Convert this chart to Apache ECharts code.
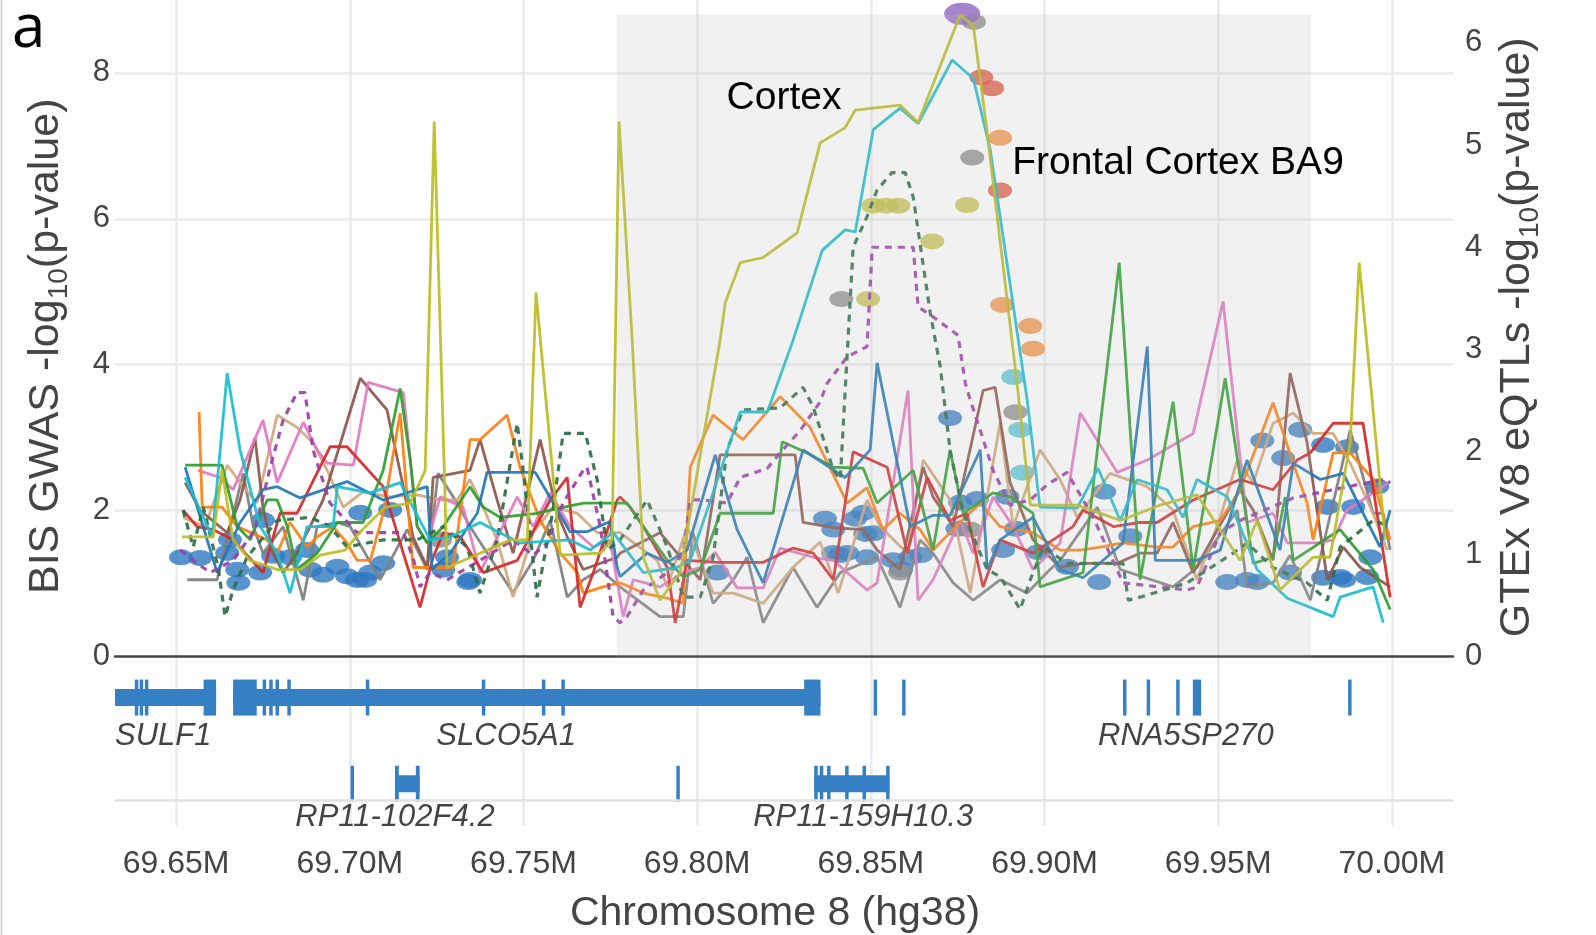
<!DOCTYPE html>
<html>
<head>
<meta charset="utf-8">
<script src="https://cdn.jsdelivr.net/npm/echarts@6/dist/echarts.min.js"></script>
<style>
  html, body { margin: 0; padding: 0; background: #fff; }
  #chart { width: 1596px; height: 935px; }
</style>
</head>
<body>
<div id="chart"></div>
<script>
// x range of the locus (Mb) and the highlighted window
var xRange = [69.6324, 70.0176];
var shadeRange = [69.7769, 69.9767];
var shadeTop = 8.80;

// GWAS points (left axis), grouped by colour
var gwasBlue = [[69.6514,1.36],[69.6569,1.35],[69.6647,1.42],[69.6655,1.60],[69.6676,1.19],[69.6679,1.01],[69.6750,1.87],[69.6742,1.15],[69.6779,1.38],[69.6828,1.36],[69.6877,1.46],[69.6886,1.19],[69.6923,1.12],[69.6964,1.23],[69.6992,1.10],[69.7021,1.05],[69.7044,1.05],[69.7059,1.15],[69.7096,1.28],[69.7030,1.97],[69.7116,2.01],[69.7269,1.19],[69.7280,1.36],[69.7341,1.02],[69.7346,1.05],
  [69.8058,1.15],[69.8368,1.89],[69.8392,1.74],[69.8412,1.39],[69.8455,1.89],[69.8478,1.97],[69.8484,1.68],[69.8507,1.69],[69.8432,1.42],[69.8392,1.42],[69.8489,1.36],[69.8564,1.32],[69.8587,1.19],[69.8613,1.36],[69.8645,1.39],[69.8749,1.75],[69.8757,2.11],[69.8806,2.16],[69.8893,2.19],[69.8881,1.46],[69.8918,1.75],[69.8982,1.43],[69.9065,1.23],[69.9157,1.02],[69.9172,2.26],[69.9247,1.65],[69.8728,3.27],
  [69.9526,1.02],[69.9583,1.05],[69.9612,1.02],[69.9627,2.96],[69.9687,2.72],[69.9736,3.11],[69.9802,2.90],[69.9871,2.87],[69.9814,2.05],[69.9889,2.05],[69.9958,2.33],[69.9938,1.36],[69.9851,1.09],[69.9929,1.09],[69.9707,1.15],[69.9802,1.08],[69.9863,1.05]];
var gwasGray = [[69.8797,8.70],[69.8792,6.84],[69.8415,4.90],[69.8916,3.35],[69.7260,1.60],[69.8786,1.74],[69.8584,1.15]];
var gwasRed = [[69.8818,7.94],[69.8849,7.79],[69.8872,6.39]];
var gwasOrange = [[69.8872,7.11],[69.8878,4.82],[69.8959,4.53],[69.8967,4.22]];
var gwasOlive = [[69.8777,6.19],[69.8507,6.18],[69.8544,6.18],[69.8579,6.18],[69.8677,5.69],[69.8492,4.90]];
var gwasCyan = [[69.8910,3.83],[69.8930,3.11],[69.8936,2.52]];
var gwasPurple = [[69.8763,8.81]];

// GTEx eQTL tracks (right axis), one per tissue colour
var eqtlBlue = [[69.6526,1.85],[69.6618,0.82],[69.6684,1.31],[69.6750,1.63],[69.6791,1.66],[69.6857,1.55],[69.6992,1.71],[69.7096,1.53],[69.7223,1.66],[69.7237,0.85],[69.7289,1.01],[69.7367,1.40],[69.7395,1.80],[69.7534,1.80],[69.7634,1.22],[69.7683,1.22],[69.7749,1.32],[69.7770,0.87],[69.7778,0.78],[69.7856,1.01],[69.7914,0.92],[69.7971,1.04],[69.8052,1.97],[69.8115,1.24],[69.8190,0.72],[69.8305,2.02],[69.8426,1.75],[69.8498,2.02],[69.8518,2.87],[69.8613,1.27],[69.8679,1.38],[69.8728,1.38],[69.8815,2.02],[69.8835,0.85],[69.8872,1.14],[69.8967,1.36],[69.9045,0.85],[69.9111,0.77],[69.9226,1.11],[69.9296,3.03],[69.9319,0.94],[69.9439,0.94],[69.9506,1.04],[69.9583,1.92],[69.9678,1.04],[69.9716,1.89],[69.9794,1.73],[69.9860,1.79],[69.9966,1.07],[69.9995,1.43]];
var eqtlCyan = [[69.6526,1.75],[69.6604,1.17],[69.6647,2.77],[69.6684,2.02],[69.6742,1.27],[69.6791,1.01],[69.6828,0.62],[69.6877,1.27],[69.6952,1.27],[69.6964,1.66],[69.7059,1.60],[69.7145,1.70],[69.7231,1.14],[69.7289,1.17],[69.7375,1.31],[69.7490,1.11],[69.7634,1.14],[69.7692,1.04],[69.7758,1.21],[69.7845,0.82],[69.7942,0.87],[69.7980,0.94],[69.8124,2.39],[69.8202,2.39],[69.8276,3.09],[69.8360,3.97],[69.8426,4.17],[69.8455,4.15],[69.8507,5.15],[69.8584,5.36],[69.8636,5.21],[69.8734,5.83],[69.8795,5.65],[69.8844,4.95],[69.8950,2.51],[69.8987,1.46],[69.9094,1.45],[69.9154,1.84],[69.9218,1.33],[69.9267,1.73],[69.9353,1.63],[69.9399,1.36],[69.9439,1.73],[69.9526,1.56],[69.9563,1.27],[69.9612,0.85],[69.9699,0.57],[69.9831,0.39],[69.9851,0.58],[69.9946,0.68],[69.9975,0.33]];
var eqtlOlive = [[69.6517,1.17],[69.6607,1.17],[69.6632,1.82],[69.6664,1.14],[69.6713,0.94],[69.6791,0.85],[69.6857,0.85],[69.6915,0.99],[69.6987,1.04],[69.7036,1.24],[69.7102,1.46],[69.7174,1.50],[69.7217,1.82],[69.7243,5.23],[69.7280,0.87],[69.7375,1.01],[69.7462,1.14],[69.7511,1.14],[69.7536,3.56],[69.7606,0.99],[69.7721,1.01],[69.7755,1.14],[69.7775,5.23],[69.7813,3.09],[69.7845,0.97],[69.7893,0.55],[69.7951,0.82],[69.8009,1.97],[69.8066,3.09],[69.8081,3.46],[69.8124,3.85],[69.8190,3.90],[69.8288,4.14],[69.8354,5.02],[69.8426,5.17],[69.8455,5.34],[69.8507,5.36],[69.8584,5.39],[69.8636,5.22],[69.8757,6.27],[69.8795,6.17],[69.8835,5.12],[69.8921,2.67],[69.8959,1.48],[69.9094,1.48],[69.9218,1.33],[69.9333,1.48],[69.9439,1.58],[69.9506,1.24],[69.9563,0.94],[69.9612,1.33],[69.9678,0.65],[69.9773,0.97],[69.9822,0.97],[69.9880,2.09],[69.9906,3.85],[69.9981,1.14]];
var eqtlDarkGreen = [[69.6520,1.43],[69.6549,1.07],[69.6578,1.46],[69.6621,0.87],[69.6641,0.39],[69.6664,0.65],[69.6704,0.97],[69.6791,1.33],[69.6886,1.36],[69.6943,1.27],[69.6992,1.07],[69.7096,1.14],[69.7194,1.14],[69.7269,1.27],[69.7338,1.07],[69.7375,0.62],[69.7424,1.14],[69.7482,2.28],[69.7499,1.82],[69.7539,0.58],[69.7585,1.43],[69.7614,2.18],[69.7678,2.18],[69.7712,1.73],[69.7741,1.04],[69.7778,1.14],[69.7856,1.53],[69.7914,1.07],[69.7960,0.58],[69.8009,0.58],[69.8046,0.97],[69.8086,2.02],[69.8132,2.41],[69.8239,2.43],[69.8305,2.63],[69.8334,2.44],[69.8392,1.82],[69.8412,1.73],[69.8449,4.00],[69.8489,4.30],[69.8518,4.56],[69.8561,4.73],[69.8599,4.73],[69.8622,4.49],[69.8671,3.36],[69.8700,2.83],[69.8728,2.02],[69.8766,1.40],[69.8835,0.85],[69.8872,0.78],[69.8930,0.46],[69.8959,0.75],[69.8996,1.07],[69.9065,0.91],[69.9226,0.91],[69.9241,0.55],[69.9275,0.58],[69.9411,0.72],[69.9543,1.01],[69.9583,1.11],[69.9658,0.87],[69.9756,0.72],[69.9814,0.55],[69.9851,1.07],[69.9946,1.33],[69.9995,1.27]];
var eqtlPurple = [[69.6512,1.04],[69.6549,0.94],[69.6598,0.82],[69.6664,0.94],[69.6727,1.24],[69.6771,1.85],[69.6808,2.31],[69.6848,2.58],[69.6871,2.58],[69.6894,2.02],[69.6943,1.50],[69.7021,1.21],[69.7096,1.21],[69.7154,1.21],[69.7182,0.97],[69.7202,0.68],[69.7231,0.82],[69.7280,0.75],[69.7375,0.94],[69.7470,1.14],[69.7528,0.99],[69.7568,1.11],[69.7614,1.50],[69.7672,1.82],[69.7683,1.85],[69.7721,1.27],[69.7758,0.39],[69.7778,0.33],[69.7798,0.39],[69.7845,0.65],[69.7914,0.82],[69.7960,1.01],[69.7980,1.53],[69.8017,1.53],[69.8086,1.50],[69.8124,1.75],[69.8202,1.84],[69.8239,1.99],[69.8297,2.21],[69.8354,2.49],[69.8374,2.67],[69.8432,2.93],[69.8489,3.03],[69.8504,4.00],[69.8622,4.00],[69.8636,3.42],[69.8679,3.32],[69.8751,3.14],[69.8772,2.67],[69.8786,2.51],[69.8815,2.21],[69.8852,1.82],[69.8901,1.48],[69.8959,1.53],[69.9008,1.68],[69.9065,1.80],[69.9082,1.70],[69.9140,1.36],[69.9226,0.72],[69.9411,0.65],[69.9439,0.68],[69.9506,1.21],[69.9563,1.33],[69.9716,1.55],[69.9975,1.73],[69.9995,1.70]];
var eqtlGreen = [[69.6526,1.87],[69.6632,1.87],[69.6676,1.27],[69.6713,1.14],[69.6762,1.53],[69.6791,1.53],[69.6820,1.27],[69.6848,0.85],[69.6906,1.01],[69.6964,1.31],[69.7038,1.31],[69.7096,1.82],[69.7145,2.62],[69.7174,1.92],[69.7194,1.27],[69.7223,1.11],[69.7269,1.27],[69.7346,1.66],[69.7384,1.46],[69.7433,1.36],[69.7539,1.40],[69.7577,1.43],[69.7672,1.50],[69.7770,1.50],[69.7798,1.50],[69.7845,1.27],[69.7914,0.94],[69.7960,0.78],[69.8009,0.85],[69.8066,1.40],[69.8219,1.40],[69.8245,2.10],[69.8317,1.99],[69.8392,1.85],[69.8478,1.84],[69.8518,1.50],[69.8622,1.82],[69.8679,1.04],[69.8728,2.02],[69.8766,1.40],[69.8852,1.60],[69.8901,1.56],[69.8967,1.40],[69.8987,0.68],[69.9111,0.82],[69.9215,3.85],[69.9275,0.75],[69.9370,2.49],[69.9428,0.85],[69.9520,2.72],[69.9601,0.91],[69.9658,0.97],[69.9693,1.56],[69.9716,0.94],[69.9851,1.24],[69.9946,0.85],[69.9995,0.46]];
var eqtlRed = [[69.6520,1.43],[69.6560,1.27],[69.6607,1.24],[69.6664,1.14],[69.6750,0.82],[69.6799,1.40],[69.6848,1.40],[69.6943,2.05],[69.6992,2.05],[69.7096,1.66],[69.7154,1.01],[69.7202,0.48],[69.7240,0.97],[69.7269,1.21],[69.7318,1.17],[69.7384,0.82],[69.7482,0.94],[69.7577,1.53],[69.7626,1.75],[69.7663,0.48],[69.7701,0.82],[69.7770,1.53],[69.7778,1.56],[69.7807,1.46],[69.7845,1.27],[69.7914,0.87],[69.7937,0.33],[69.7971,0.94],[69.8058,0.92],[69.8190,0.92],[69.8276,1.06],[69.8334,1.01],[69.8392,0.75],[69.8449,2.00],[69.8547,1.85],[69.8605,1.01],[69.8662,1.75],[69.8728,1.33],[69.8777,1.40],[69.8823,0.68],[69.8872,1.14],[69.8967,1.01],[69.9082,1.27],[69.9111,1.43],[69.9198,1.27],[69.9275,1.31],[69.9324,1.31],[69.9428,1.53],[69.9563,1.73],[69.9658,1.63],[69.9727,1.92],[69.9765,1.99],[69.9831,2.28],[69.9917,2.28],[69.9995,0.58]];
var eqtlBrown = [[69.6526,1.70],[69.6569,1.43],[69.6647,1.21],[69.6684,1.53],[69.6727,2.14],[69.6750,1.46],[69.6779,1.01],[69.6808,0.82],[69.6848,1.01],[69.6923,1.53],[69.7030,2.72],[69.7107,2.41],[69.7154,1.66],[69.7182,1.17],[69.7223,0.87],[69.7240,1.75],[69.7346,1.82],[69.7375,2.12],[69.7424,1.53],[69.7470,1.01],[69.7548,2.12],[69.7597,1.40],[69.7626,1.17],[69.7672,0.85],[69.7770,0.97],[69.7778,1.01],[69.7893,1.21],[69.7960,0.94],[69.8009,0.75],[69.8066,1.97],[69.8282,1.97],[69.8305,1.31],[69.8392,1.26],[69.8478,1.24],[69.8518,1.04],[69.8584,0.85],[69.8651,1.85],[69.8679,1.56],[69.8737,1.27],[69.8823,2.60],[69.8858,2.63],[69.8901,1.70],[69.8967,1.14],[69.9045,0.87],[69.9111,0.91],[69.9209,0.91],[69.9275,1.01],[69.9324,1.01],[69.9370,1.31],[69.9428,0.82],[69.9563,1.63],[69.9601,1.43],[69.9658,0.94],[69.9707,2.77],[69.9756,2.09],[69.9814,0.75],[69.9860,1.07],[69.9909,0.87],[69.9995,0.68]];
var eqtlPink = [[69.6563,1.82],[69.6627,1.75],[69.6664,1.63],[69.6750,2.31],[69.6791,1.70],[69.6866,2.29],[69.6906,2.02],[69.6935,1.89],[69.7010,1.87],[69.7053,2.68],[69.7154,2.58],[69.7194,1.27],[69.7223,1.11],[69.7260,1.56],[69.7326,1.46],[69.7375,0.82],[69.7482,1.56],[69.7528,1.27],[69.7577,1.60],[69.7634,1.27],[69.7701,1.07],[69.7749,1.14],[69.7787,0.39],[69.7816,0.75],[69.7893,0.68],[69.7960,0.82],[69.8009,0.87],[69.8052,1.02],[69.8115,0.67],[69.8190,0.67],[69.8239,1.06],[69.8334,0.97],[69.8392,0.94],[69.8489,0.65],[69.8518,0.72],[69.8607,2.60],[69.8636,0.55],[69.8679,0.75],[69.8757,1.33],[69.8795,1.01],[69.8852,1.56],[69.8910,1.27],[69.8967,0.85],[69.9045,1.11],[69.9103,2.38],[69.9209,1.80],[69.9296,1.92],[69.9428,2.18],[69.9514,3.47],[69.9583,1.31],[69.9658,1.40],[69.9699,1.11],[69.9785,1.11],[69.9831,1.14],[69.9871,1.43],[69.9995,1.71]];
var eqtlOrange = [[69.6566,2.39],[69.6575,1.46],[69.6632,1.46],[69.6676,1.27],[69.6762,1.14],[69.6791,1.01],[69.6828,1.31],[69.6877,1.07],[69.6906,1.17],[69.6952,1.27],[69.6992,1.11],[69.7021,0.94],[69.7059,0.94],[69.7096,1.40],[69.7145,2.38],[69.7182,0.87],[69.7231,0.87],[69.7297,0.87],[69.7346,2.12],[69.7375,2.12],[69.7453,2.36],[69.7490,1.85],[69.7548,1.33],[69.7606,1.01],[69.7655,0.82],[69.7672,0.62],[69.7729,0.68],[69.7778,0.72],[69.7845,0.62],[69.7914,0.57],[69.7960,0.52],[69.7980,1.85],[69.8046,2.36],[69.8132,2.12],[69.8239,2.54],[69.8325,2.24],[69.8432,1.50],[69.8489,1.65],[69.8535,1.24],[69.8584,1.40],[69.8642,1.24],[69.8679,1.04],[69.8757,1.31],[69.8815,1.50],[69.8872,1.27],[69.8967,1.21],[69.9045,1.04],[69.9103,1.04],[69.9160,1.07],[69.9226,1.11],[69.9324,1.07],[69.9370,1.07],[69.9428,1.27],[69.9506,1.33],[69.9563,1.63],[69.9658,2.48],[69.9716,1.89],[69.9756,1.50],[69.9773,1.14],[69.9831,1.99],[69.9880,1.99],[69.9946,1.73],[69.9995,1.14]];
var eqtlGray = [[69.6532,0.75],[69.6618,0.75],[69.6693,1.79],[69.6722,1.27],[69.6750,1.01],[69.6808,1.27],[69.6866,0.55],[69.6906,1.27],[69.6964,1.31],[69.7001,1.27],[69.7087,0.75],[69.7165,1.24],[69.7223,0.85],[69.7254,1.79],[69.7309,1.50],[69.7346,1.27],[69.7470,0.62],[69.7528,0.94],[69.7577,1.33],[69.7626,0.58],[69.7672,0.75],[69.7721,0.85],[69.7778,0.68],[69.7893,0.39],[69.7960,0.39],[69.7988,1.21],[69.8046,0.52],[69.8104,0.75],[69.8144,0.97],[69.8190,0.33],[69.8276,0.87],[69.8345,0.48],[69.8412,0.82],[69.8518,0.97],[69.8584,0.48],[69.8642,1.14],[69.8679,1.01],[69.8737,0.72],[69.8795,0.55],[69.8872,0.75],[69.8950,0.62],[69.9016,0.85],[69.9045,0.94],[69.9152,1.46],[69.9218,0.85],[69.9370,0.68],[69.9439,0.87],[69.9555,1.43],[69.9583,0.68],[69.9658,0.72],[69.9707,0.99],[69.9765,0.55],[69.9880,2.21],[69.9946,1.40],[69.9975,1.40],[69.9995,1.04]];
var eqtlTan = [[69.6520,1.36],[69.6583,1.27],[69.6647,1.87],[69.6693,1.66],[69.6733,1.50],[69.6791,2.36],[69.6848,2.24],[69.6894,2.09],[69.6935,1.82],[69.6981,1.46],[69.7038,1.61],[69.7116,1.56],[69.7194,1.58],[69.7260,1.53],[69.7309,1.53],[69.7346,1.73],[69.7384,1.46],[69.7424,1.14],[69.7470,0.58],[69.7528,1.21],[69.7585,1.46],[69.7655,1.40],[69.7712,1.21],[69.7778,1.21],[69.7885,0.94],[69.7914,0.68],[69.7971,1.27],[69.8046,0.62],[69.8104,0.62],[69.8190,0.52],[69.8276,0.87],[69.8354,1.12],[69.8406,0.62],[69.8489,1.53],[69.8527,1.27],[69.8605,1.01],[69.8651,1.92],[69.8728,1.53],[69.8786,0.62],[69.8872,2.28],[69.8910,1.27],[69.8987,2.02],[69.9045,1.73],[69.9094,1.36],[69.9189,1.79],[69.9296,1.66],[69.9370,1.43],[69.9439,0.75],[69.9506,1.36],[69.9555,1.92],[69.9601,1.70],[69.9658,2.28],[69.9716,2.38],[69.9773,2.18],[69.9831,2.18],[69.9880,1.89],[69.9946,1.40],[69.9986,1.04]];

// gene models: [start, end, track row, kind] kind 1 = exon, 0 = intron
var geneParts = [
  [69.6324,69.6615,1,0],[69.6381,69.6390,1,1],[69.6395,69.6404,1,1],[69.6410,69.6419,1,1],[69.6579,69.6615,1,1],
  [69.6664,69.8355,1,0],[69.6664,69.6732,1,1],[69.6749,69.6758,1,1],[69.6768,69.6777,1,1],[69.6786,69.6795,1,1],[69.6820,69.6829,1,1],
  [69.7046,69.7055,1,1],[69.7380,69.7389,1,1],[69.7553,69.7562,1,1],[69.7609,69.7618,1,1],[69.8308,69.8355,1,1],
  [69.8508,69.8518,1,1],[69.8590,69.8600,1,1],[69.9226,69.9235,1,1],[69.9294,69.9303,1,1],[69.9379,69.9388,1,1],[69.9427,69.9451,1,1],[69.9874,69.9883,1,1],
  [69.7002,69.7011,2,1],[69.7130,69.7201,2,0],[69.7130,69.7141,2,1],[69.7190,69.7201,2,1],[69.7940,69.7949,2,1],
  [69.8337,69.8553,2,0],[69.8337,69.8346,2,1],[69.8353,69.8362,2,1],[69.8374,69.8383,2,1],[69.8426,69.8435,2,1],[69.8476,69.8485,2,1],[69.8544,69.8553,2,1]
];
var geneLabels = [['SULF1',69.6463,1],['SLCO5A1',69.7450,1],['RNA5SP270',69.9407,1],['RP11-102F4.2',69.7130,2],['RP11-159H10.3',69.8478,2]];

// layout constants for the gene panel (y levels in panel units)
var geneRowY = {1: 0.61, 2: 0.10};
var geneLabelY = {1: 0.38, 2: -0.10};
var FONT = '"Liberation Sans", Arial, Helvetica, sans-serif';
var TXT = '#444444';
var GRIDC = '#ebebeb';

var chart = echarts.init(document.getElementById('chart'));

function eqtl(data, color, dashed) {
  return {
    type: 'line', xAxisIndex: 0, yAxisIndex: 1, data: data, symbol: 'none',
    z: 3, silent: true,
    lineStyle: { color: color, width: dashed ? 3.2 : 2.8, type: dashed ? [7, 6] : 'solid', opacity: 0.92 }
  };
}
function gwas(data, color, size) {
  return {
    type: 'scatter', xAxisIndex: 0, yAxisIndex: 0, data: data, symbol: 'circle',
    symbolSize: size || [24, 16], z: 2, silent: true, itemStyle: { color: color }
  };
}

var xAxisBase = {
  type: 'value', min: xRange[0], max: xRange[1], splitNumber: 8, minInterval: 0.05, maxInterval: 0.05,
  splitLine: { show: true, showMinLine: false, showMaxLine: false, lineStyle: { color: GRIDC, width: 2.5 } },
  axisTick: { show: false }
};
var titleRich = {
  t: { fontSize: 43, color: TXT, fontFamily: FONT, lineHeight: 54, verticalAlign: 'middle' },
  s: { fontSize: 28, color: TXT, fontFamily: FONT, lineHeight: 28, verticalAlign: 'bottom' }
};

option = {
  animation: false,
  backgroundColor: '#ffffff',
  grid: [
    { left: 115, right: 143, top: 0, height: 656.5 },
    { left: 115, right: 143, top: 657, height: 170 }
  ],
  xAxis: [
    Object.assign({}, xAxisBase, {
      gridIndex: 0,
      axisLine: { show: true, onZero: false, lineStyle: { color: '#444', width: 2.5 } },
      axisLabel: { show: false }
    }),
    Object.assign({}, xAxisBase, {
      gridIndex: 1,
      axisLine: { show: false },
      axisLabel: {
        show: true, showMinLabel: false, showMaxLabel: false, margin: 22,
        color: TXT, fontSize: 32, fontFamily: FONT,
        formatter: function (v) { return v.toFixed(2) + 'M'; }
      },
      name: 'Chromosome 8 (hg38)', nameLocation: 'middle', nameGap: 67,
      nameTextStyle: { color: TXT, fontSize: 41, fontFamily: FONT, padding: [0, 18, 0, 0] }
    })
  ],
  yAxis: [
    {
      type: 'value', gridIndex: 0, min: 0, max: 9.0, interval: 2, position: 'left',
      axisLine: { show: false }, axisTick: { show: false },
      axisLabel: { showMaxLabel: false, margin: 5, color: TXT, fontSize: 31, fontFamily: FONT },
      splitLine: { show: true, showMinLine: false, showMaxLine: false, lineStyle: { color: GRIDC, width: 2.5 } },
      name: '{t|BIS GWAS -log}{s|10}{t|(p-value)}', nameLocation: 'middle', nameRotate: 90, nameGap: 42,
      nameTextStyle: { padding: [0, 36, 0, 0], rich: titleRich }
    },
    {
      type: 'value', gridIndex: 0, min: 0, max: 6.417, interval: 1, position: 'right',
      axisLine: { show: false }, axisTick: { show: false }, splitLine: { show: false },
      axisLabel: { showMaxLabel: false, margin: 12, color: TXT, fontSize: 31, fontFamily: FONT },
      name: '{t|GTEx V8 eQTLs -log}{s|10}{t|(p-value)}', nameLocation: 'middle', nameRotate: 90, nameGap: 37,
      nameTextStyle: { padding: [0, 18, 0, 0], rich: titleRich }
    },
    { type: 'value', gridIndex: 1, min: -0.15, max: 0.85, show: false }
  ],
  graphic: [
    { type: 'line', shape: { x1: 1.5, y1: 0, x2: 1.5, y2: 935 }, style: { stroke: '#c8c8c8', lineWidth: 1.5 }, z: 100 },
    { type: 'text', left: 12, top: 0, z: 100, style: { text: 'a', fill: '#000', font: '60px "Open Sans", sans-serif' } },
    { type: 'text', z: 100, style: { x: 784, y: 98, text: 'Cortex', fill: '#000', font: '39px ' + FONT, align: 'center', verticalAlign: 'middle' } },
    { type: 'text', z: 100, style: { x: 1178, y: 163, text: 'Frontal Cortex BA9', fill: '#000', font: '39px ' + FONT, align: 'center', verticalAlign: 'middle' } }
  ],
  series: [
    gwas(gwasBlue, '#2f78c2'),
    gwas(gwasGray, '#8a8a8a'),
    gwas(gwasOlive, '#c3c24a'),
    gwas(gwasCyan, '#52c3d2'),
    gwas(gwasOrange, '#f4903f'),
    gwas(gwasRed, '#e0553b'),
    gwas(gwasPurple, '#9065bf', [36, 22]),
    eqtl(eqtlGray, '#7f7f7f'),
    eqtl(eqtlTan, '#d2a77b'),
    eqtl(eqtlBrown, '#8c564b'),
    eqtl(eqtlPink, '#e377c2'),
    eqtl(eqtlOrange, '#ff7f0e'),
    eqtl(eqtlRed, '#d62728'),
    eqtl(eqtlGreen, '#2ca02c'),
    eqtl(eqtlBlue, '#1f77b4'),
    eqtl(eqtlPurple, '#9b3fa8', true),
    eqtl(eqtlDarkGreen, '#2b6e47', true),
    eqtl(eqtlCyan, '#17becf'),
    eqtl(eqtlOlive, '#bcbd22'),
    {
      // highlighted window drawn as a translucent veil over the marks
      type: 'custom', xAxisIndex: 0, yAxisIndex: 0, z: 20, silent: true, clip: false,
      data: [[shadeRange[0], shadeRange[1], shadeTop]],
      encode: { x: [0, 1], y: 2 },
      renderItem: function (params, api) {
        var p0 = api.coord([api.value(0), api.value(2)]);
        var p1 = api.coord([api.value(1), 0]);
        return { type: 'rect', shape: { x: p0[0], y: p0[1], width: p1[0] - p0[0], height: p1[1] - p0[1] },
          style: { fill: 'rgba(185,185,185,0.2)' } };
      }
    },
    {
      type: 'custom', xAxisIndex: 1, yAxisIndex: 2, silent: true, clip: false,
      data: geneParts, encode: { x: [0, 1], y: 2 },
      renderItem: function (params, api) {
        var yc = api.coord([xRange[0], geneRowY[api.value(2)]])[1];
        var x0 = api.coord([api.value(0), 0])[0];
        var x1 = api.coord([api.value(1), 0])[0];
        var h = api.value(3) === 1 ? 36 : 17;
        return { type: 'rect', shape: { x: x0, y: yc - h / 2, width: Math.max(x1 - x0, 3.5), height: h },
          style: { fill: '#3580c4' } };
      },
      markLine: {
        silent: true, symbol: 'none', label: { show: false },
        lineStyle: { color: '#e2e2e2', width: 2.5, type: 'solid' },
        data: [{ yAxis: 0 }]
      }
    },
    {
      type: 'custom', xAxisIndex: 1, yAxisIndex: 2, silent: true, clip: false,
      data: geneLabels.map(function (g) { return [g[1], g[2]]; }),
      renderItem: function (params, api) {
        var p = api.coord([api.value(0), geneLabelY[api.value(1)]]);
        return { type: 'text', x: p[0], y: p[1],
          style: { text: geneLabels[params.dataIndex][0], fill: TXT, font: 'italic 31px ' + FONT,
            align: 'center', verticalAlign: 'middle' } };
      }
    }
  ]
};

chart.setOption(option);
</script>
</body>
</html>
